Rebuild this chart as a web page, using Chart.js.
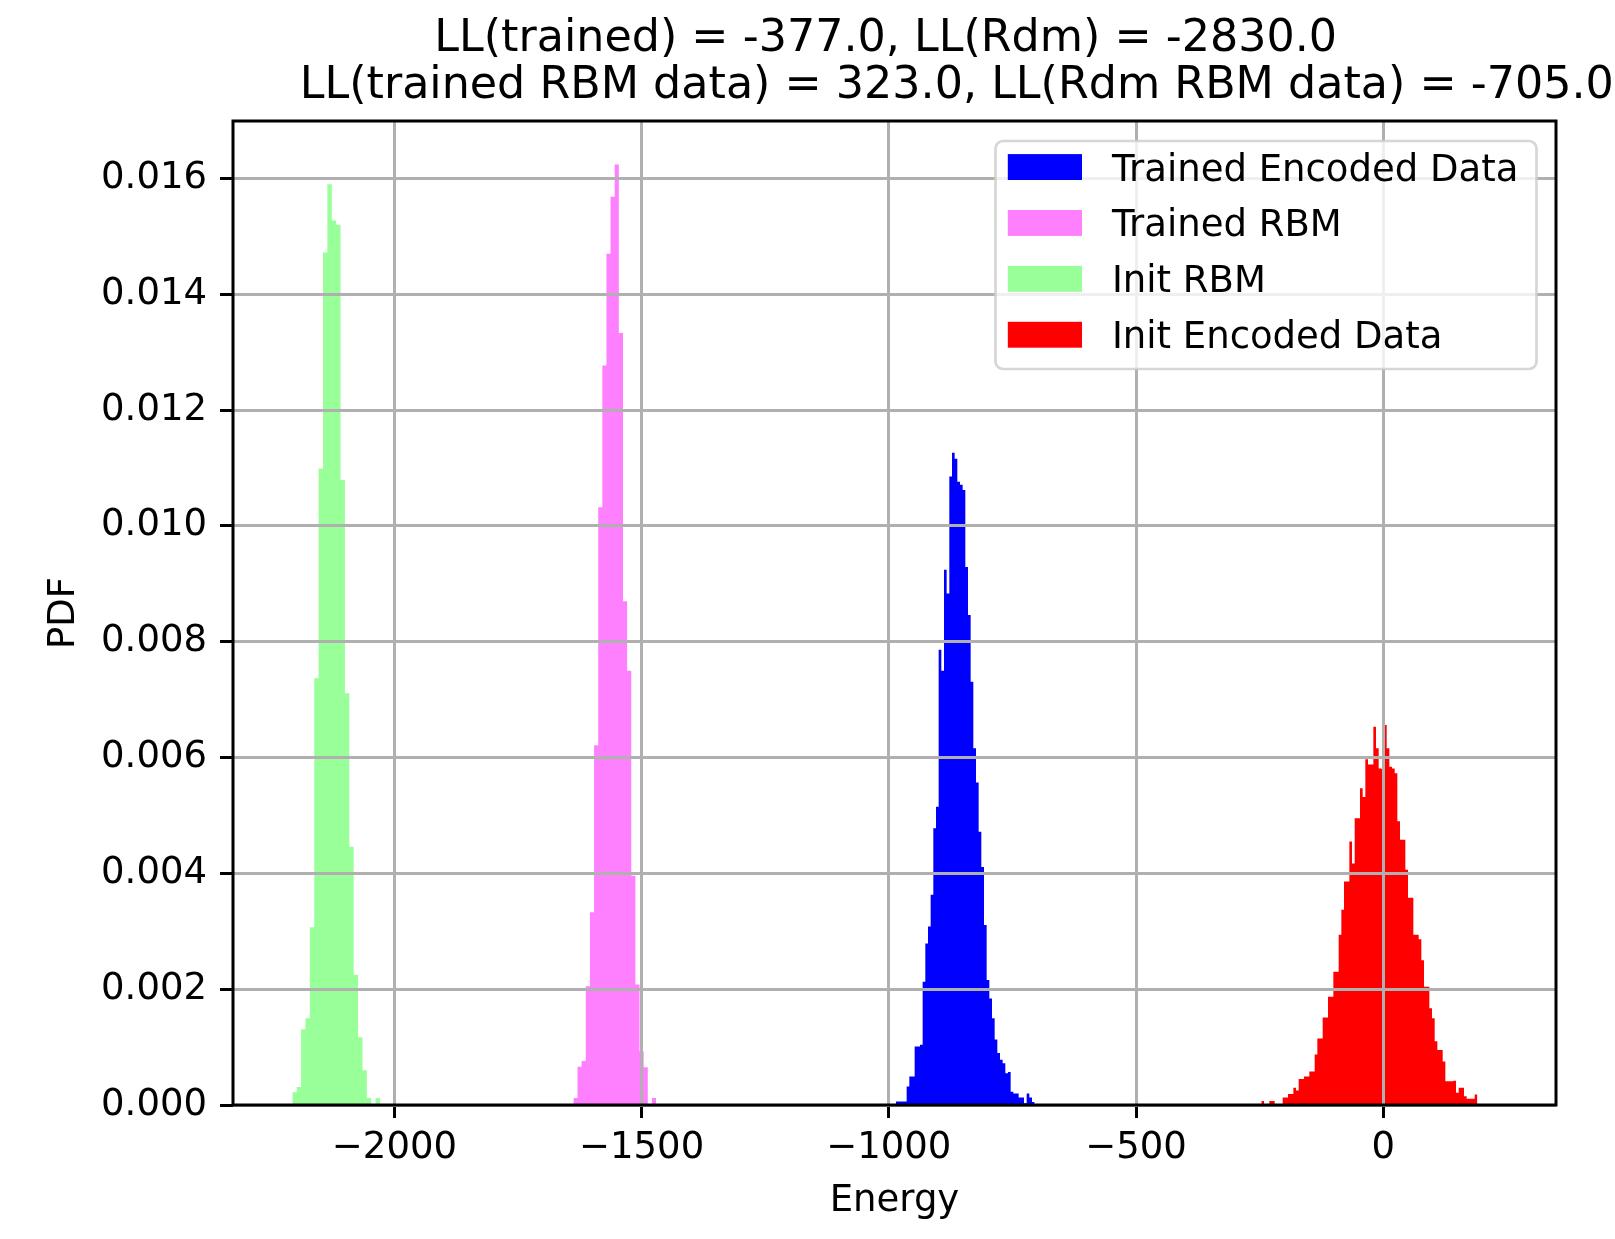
<!DOCTYPE html>
<html>
<head>
<meta charset="utf-8">
<script src="https://cdn.jsdelivr.net/npm/chart.js@4.4.1/dist/chart.umd.min.js"></script>
<style>
html,body{margin:0;padding:0;background:#ffffff;}
#wrap{position:relative;width:1615px;height:1239px;}
</style>
</head>
<body>
<div id="wrap"><canvas id="c"></canvas></div>
<script>
// ---- text ----
const titleLines = [
  "LL(trained) = -377.0, LL(Rdm) = -2830.0",
  "LL(trained RBM data) = 323.0, LL(Rdm RBM data) = -705.0"
];
const xAxisLabel = "Energy";
const yAxisLabel = "PDF";
const seriesLabels = ["Trained Encoded Data", "Trained RBM", "Init RBM", "Init Encoded Data"];
const seriesColors = ["#0000ff", "#ff80ff", "#99ff99", "#ff0000"];

// ---- ticks ----
const xTickValues = [-2000, -1500, -1000, -500, 0];
const yTickValues = [0, 0.002, 0.004, 0.006, 0.008, 0.010, 0.012, 0.014, 0.016];
const xRange = [-2326.5, 349.5];
const yRange = [0, 0.01699];

// ---- histograms: left edge of first bin, bin width, density per bin ----
const trainedEncStart = -985.5;
const trainedEncWidth = 5.394;
const trainedEncDensity = [0.00006,0.00006,0.00006,0.00006,0.00032,0.00049,0.00049,0.00101,0.00101,0.00104,
  0.00213,0.00279,0.00308,0.00363,0.00478,0.00515,0.00786,0.0075,0.00924,0.00883,
  0.01085,0.01126,0.01116,0.01076,0.01071,0.01062,0.00929,0.00846,0.00731,0.00616,
  0.00557,0.00472,0.00411,0.00311,0.00216,0.00184,0.0015,0.00113,0.0009,0.00078,
  0.00072,0.00055,0.00057,0.00023,0.0002,0.0002,0.00013,0.00013,0.00003,0.0002,
  0.00013,0.00005];

const trainedRbmStart = -1638.0;
const trainedRbmWidth = 8.36;
const trainedRbmDensity = [0.00012,0.00066,0.00076,0.00205,0.00333,0.00621,0.01032,0.01277,0.0147,0.01568,
  0.01624,0.01333,0.0087,0.0075,0.00396,0.00208,0.00093,0.00065,0,0.00012];

const initRbmStart = -2206.5;
const initRbmWidth = 8.865;
const initRbmDensity = [0.00022,0.00031,0.00131,0.0015,0.00307,0.00737,0.01099,0.01472,0.0159,0.01527,
  0.0152,0.01079,0.00711,0.00446,0.00225,0.00117,0.0006,0.00012,0,0.00012];

const initEncStart = -246.5;
const initEncWidth = 5.394;
const initEncDensity = [0.00007,0,0,0.00007,0.00007,0,0,0,0.00013,0.00013,
  0.00019,0.00019,0.0003,0.00025,0.00045,0.00045,0.00049,0.00049,0.00058,0.00058,
  0.00087,0.00115,0.00115,0.00151,0.00151,0.00187,0.00187,0.0023,0.0023,0.00294,
  0.00337,0.00386,0.00386,0.00455,0.00417,0.00495,0.00495,0.00547,0.00532,0.00597,
  0.00588,0.00588,0.00653,0.00616,0.00581,0.0058,0.00656,0.00616,0.00584,0.00581,
  0.00573,0.0049,0.00458,0.00458,0.00406,0.00358,0.00358,0.00294,0.00294,0.00286,
  0.0025,0.00204,0.00204,0.00167,0.0015,0.0011,0.00095,0.00095,0.00075,0.00041,
  0.00041,0.00041,0.00042,0.00021,0.0003,0.0003,0.00015,0.00011,0.00011,0.00011,
  0.00018];

// ---- build step-histogram points (left edge + height, closing edge at 0) ----
function histPoints(start, width, dens) {
  const pts = dens.map((d, i) => ({x: start + i * width, y: d}));
  pts.push({x: start + dens.length * width, y: 0});
  return pts;
}
const histSeries = [
  histPoints(trainedEncStart, trainedEncWidth, trainedEncDensity),
  histPoints(trainedRbmStart, trainedRbmWidth, trainedRbmDensity),
  histPoints(initRbmStart, initRbmWidth, initRbmDensity),
  histPoints(initEncStart, initEncWidth, initEncDensity)
];

const FONT = "DejaVu Sans";
const fmtX = v => (v < 0 ? "\u2212" + Math.abs(v) : String(v));

const decor = {
  id: 'mplDecor',
  afterDraw(chart) {
    const ctx = chart.ctx, a = chart.chartArea;
    ctx.save();
    // axes frame
    ctx.strokeStyle = '#000000';
    ctx.lineWidth = 3;
    ctx.strokeRect(a.left, a.top, a.right - a.left, a.bottom - a.top);

    // legend (inside, upper right)
    const fs = 37;
    const boxW = 541, boxH = 228;
    const bx = a.right - 19.5 - boxW, by = a.top + 20;
    const r = 7.5;
    ctx.beginPath();
    ctx.moveTo(bx + r, by);
    ctx.lineTo(bx + boxW - r, by);
    ctx.arcTo(bx + boxW, by, bx + boxW, by + r, r);
    ctx.lineTo(bx + boxW, by + boxH - r);
    ctx.arcTo(bx + boxW, by + boxH, bx + boxW - r, by + boxH, r);
    ctx.lineTo(bx + r, by + boxH);
    ctx.arcTo(bx, by + boxH, bx, by + boxH - r, r);
    ctx.lineTo(bx, by + r);
    ctx.arcTo(bx, by, bx + r, by, r);
    ctx.closePath();
    ctx.fillStyle = 'rgba(255,255,255,0.8)';
    ctx.fill();
    ctx.strokeStyle = 'rgba(204,204,204,0.8)';
    ctx.lineWidth = 2.7;
    ctx.stroke();
    ctx.font = fs + 'px "' + FONT + '"';
    ctx.textAlign = 'left';
    ctx.textBaseline = 'alphabetic';
    seriesLabels.forEach((lab, i) => {
      const cy = by + 26 + i * 55.9;
      ctx.fillStyle = seriesColors[i];
      ctx.fillRect(bx + 12.3, cy - 12.9, 74.2, 25.9);
      ctx.fillStyle = '#000000';
      ctx.fillText(lab, bx + 116.4, cy + 13.5);
    });

    // two-line title
    ctx.font = '44.4px "' + FONT + '"';
    ctx.fillStyle = '#000000';
    ctx.textAlign = 'center';
    ctx.fillText(titleLines[0], 885.7, 50.5);
    ctx.textAlign = 'left';
    ctx.fillText(titleLines[1], 299.7, 97.8);
    ctx.restore();
  }
};

new Chart(document.getElementById('c'), {
  type: 'line',
  data: {
    datasets: histSeries.map((pts, i) => ({
      label: seriesLabels[i],
      data: pts,
      stepped: true,
      fill: 'origin',
      backgroundColor: seriesColors[i],
      borderColor: seriesColors[i],
      borderWidth: 0,
      pointRadius: 0,
      pointHoverRadius: 0
    }))
  },
  options: {
    responsive: true,
    maintainAspectRatio: false,
    devicePixelRatio: 1,
    animation: false,
    events: [],
    layout: {padding: {left: 0, right: 59, top: 121, bottom: 0}},
    plugins: {
      legend: {display: false},
      title: {display: false},
      tooltip: {enabled: false}
    },
    scales: {
      x: {
        type: 'linear',
        min: xRange[0],
        max: xRange[1],
        afterBuildTicks: s => { s.ticks = xTickValues.map(v => ({value: v})); },
        afterFit: s => { s.height = 134; },
        ticks: {
          color: '#000000',
          font: {family: FONT, size: 37},
          padding: 8,
          maxRotation: 0,
          autoSkip: false,
          callback: v => fmtX(v)
        },
        grid: {color: '#b0b0b0', lineWidth: 3, z: 1, tickColor: '#000000', tickLength: 13, tickWidth: 3},
        border: {display: false},
        title: {display: true, text: xAxisLabel, color: '#000000', font: {family: FONT, size: 37}, padding: {top: 0, bottom: 15.5}}
      },
      y: {
        type: 'linear',
        min: yRange[0],
        max: yRange[1],
        afterBuildTicks: s => { s.ticks = yTickValues.map(v => ({value: v})); },
        afterFit: s => { s.width = 233; },
        ticks: {
          color: '#000000',
          font: {family: FONT, size: 37},
          padding: 13,
          autoSkip: false,
          callback: v => Number(v).toFixed(3)
        },
        grid: {color: '#b0b0b0', lineWidth: 3, z: 1, tickColor: '#000000', tickLength: 13, tickWidth: 3},
        border: {display: false},
        title: {display: true, text: yAxisLabel, color: '#000000', font: {family: FONT, size: 37}, padding: {top: 41.8, bottom: 0}}
      }
    }
  },
  plugins: [decor]
});
</script>
</body>
</html>
